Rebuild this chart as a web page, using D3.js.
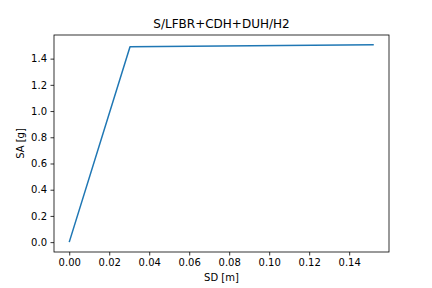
<!DOCTYPE html>
<html><head><meta charset="utf-8">
<script src="https://cdn.jsdelivr.net/npm/d3@7"></script>
<style>body{margin:0;background:#fff}svg{display:block}text{font-family:"DejaVu Sans",sans-serif;fill:#000}</style>
</head><body>
<script>
const sd = [0.0, 0.0304, 0.1523];
const sa = [0.0, 1.490, 1.505];
const xTicks = [0.00, 0.02, 0.04, 0.06, 0.08, 0.10, 0.12, 0.14];
const yTicks = [0.0, 0.2, 0.4, 0.6, 0.8, 1.0, 1.2, 1.4];
const title = "S/LFBR+CDH+DUH/H2";
const xLabel = "SD [m]";
const yLabel = "SA [g]";

const W = 432, H = 288;
const m = {left: 54, right: 389, top: 35, bottom: 252};
const svg = d3.select("body").append("svg").attr("width", W).attr("height", H);
const xr = d3.max(sd) - d3.min(sd), yr = d3.max(sa) - d3.min(sa);
const x = d3.scaleLinear().domain([d3.min(sd) - 0.05*xr, d3.max(sd) + 0.05*xr]).range([m.left, m.right]);
const y = d3.scaleLinear().domain([d3.min(sa) - 0.05*yr, d3.max(sa) + 0.05*yr]).range([m.bottom, m.top]);

const gx = svg.append("g").attr("transform", `translate(0,${m.bottom})`)
  .call(d3.axisBottom(x).tickValues(xTicks).tickFormat(d3.format(".2f")).tickSize(3.5).tickPadding(3.5));
const gy = svg.append("g").attr("transform", `translate(${m.left},0)`)
  .call(d3.axisLeft(y).tickValues(yTicks).tickFormat(d3.format(".1f")).tickSize(3.5).tickPadding(3.5));
[gx, gy].forEach(g => {
  g.select(".domain").remove();
  g.selectAll("line").attr("stroke", "#000").attr("stroke-width", 0.8);
  g.selectAll("text").attr("font-size", 10).attr("font-family", "DejaVu Sans").attr("fill", "#000");
});

svg.append("path").datum(sd.map((d, i) => [d, sa[i]]))
  .attr("fill", "none").attr("stroke", "#1f77b4").attr("stroke-width", 1.5)
  .attr("stroke-linejoin", "round")
  .attr("d", d3.line().x(d => x(d[0])).y(d => y(d[1])));

svg.append("rect").attr("x", m.left).attr("y", m.top)
  .attr("width", m.right - m.left).attr("height", m.bottom - m.top)
  .attr("fill", "none").attr("stroke", "#000").attr("stroke-width", 0.8);

svg.append("text").attr("x", (m.left + m.right)/2).attr("y", 28)
  .attr("text-anchor", "middle").attr("font-size", 12).text(title);
svg.append("text").attr("x", (m.left + m.right)/2).attr("y", 281)
  .attr("text-anchor", "middle").attr("font-size", 10).text(xLabel);
svg.append("text").attr("transform", `translate(24,${(m.top + m.bottom)/2}) rotate(-90)`)
  .attr("text-anchor", "middle").attr("font-size", 10).text(yLabel);
</script>
</body></html>
